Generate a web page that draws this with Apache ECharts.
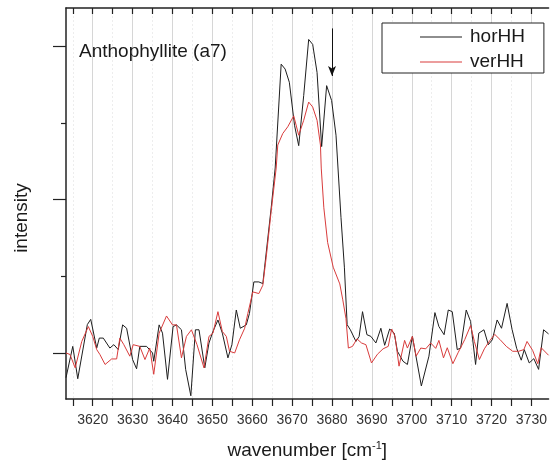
<!DOCTYPE html>
<html>
<head>
<meta charset="utf-8">
<script src="https://cdn.jsdelivr.net/npm/echarts@6/dist/echarts.min.js"></script>
<style>
  html, body { margin: 0; padding: 0; background: #fff; }
  #chart { width: 550px; height: 467px; }
</style>
</head>
<body>
<div id="chart"></div>
<script>
// Wavenumber axis (cm^-1): visible window, label positions, tick positions
const xRange = [3613.3, 3734.3];
const xLabelValues = [3620, 3630, 3640, 3650, 3660, 3670, 3680, 3690, 3700, 3710, 3720, 3730];
const xTickValues = [3615, 3620, 3625, 3630, 3635, 3640, 3645, 3650, 3655, 3660, 3665, 3670, 3675,
  3680, 3685, 3690, 3695, 3700, 3705, 3710, 3715, 3720, 3725, 3730];

// Intensity axis (arbitrary units, no labels)
const yRange = [-0.3, 2.248];
const yMajorTicks = [0, 1, 2];
const yMinorTicks = [0.5, 1.5];

// horHH spectrum
const horWn = [3613.3, 3615.0, 3616.25, 3618.65, 3619.5, 3621.0, 3621.65, 3622.65, 3624.3, 3625.3,
  3626.4, 3627.5, 3628.5, 3630.0, 3631.0, 3631.8, 3633.5, 3635.0, 3635.3, 3636.65,
  3637.5, 3638.75, 3640.15, 3641.0, 3642.25, 3643.3, 3644.6, 3645.75, 3646.65, 3648.1,
  3649.15, 3650.15, 3651.4, 3652.5, 3653.9, 3654.9, 3656.0, 3657.0, 3658.5, 3659.3,
  3660.4, 3661.65, 3662.65, 3663.1, 3664.75, 3665.75, 3667.25, 3668.25, 3669.3, 3670.6,
  3671.65, 3672.9, 3674.15, 3675.15, 3676.25, 3677.4, 3678.65, 3679.9, 3681.0, 3681.65,
  3682.25, 3683.1, 3683.8, 3684.6, 3686.0, 3686.8, 3687.65, 3688.75, 3689.75, 3691.0,
  3692.25, 3693.2, 3694.45, 3695.6, 3696.4, 3697.8, 3698.9, 3700.15, 3702.4, 3704.3,
  3705.8, 3706.8, 3708.1, 3709.15, 3710.15, 3711.4, 3712.25, 3713.65, 3714.75, 3716.0,
  3716.8, 3718.1, 3719.2, 3720.2, 3721.4, 3722.5, 3723.9, 3725.15, 3726.3, 3727.45,
  3728.2, 3729.45, 3730.6, 3731.8, 3733.05, 3734.3];
const horInt = [-0.161, 0.043, -0.168, 0.185, 0.219, 0.032, 0.097, 0.097, 0.032, 0.054,
  0.022, 0.183, 0.161, -0.043, -0.103, 0.043, 0.043, 0.0, -0.054, 0.183,
  0.129, -0.172, 0.172, 0.183, 0.151, -0.107, -0.279, 0.151, 0.151, -0.097,
  0.065, 0.14, 0.215, 0.129, -0.032, 0.054, 0.28, 0.161, 0.183, 0.258,
  0.463, 0.463, 0.452, 0.559, 0.946, 1.205, 1.882, 1.85, 1.764, 1.484,
  1.351, 1.677, 2.043, 2.011, 1.828, 1.345, 1.742, 1.645, 1.419, 1.14,
  0.882, 0.559, 0.184, 0.151, 0.075, 0.108, 0.269, 0.119, 0.108, 0.065,
  0.161, 0.05, 0.156, 0.129, 0.011, -0.054, -0.075, 0.108, -0.215, -0.021,
  0.263, 0.172, 0.119, 0.28, 0.269, 0.022, 0.032, 0.28, 0.205, -0.075,
  0.129, 0.151, 0.054, 0.086, 0.215, 0.161, 0.323, 0.153, 0.03, -0.047,
  0.022, -0.065, -0.037, -0.107, 0.151, 0.124];

// verHH spectrum
const verWn = [3613.3, 3614.3, 3615.6, 3617.25, 3618.9, 3620.0, 3621.0, 3621.8, 3623.1, 3624.75,
  3626.0, 3626.8, 3627.8, 3629.3, 3630.15, 3631.8, 3633.1, 3634.3, 3635.3, 3636.65,
  3638.5, 3640.0, 3641.0, 3642.25, 3643.5, 3644.75, 3646.15, 3647.9, 3649.15, 3650.15,
  3651.4, 3652.5, 3653.5, 3654.3, 3655.6, 3656.8, 3658.1, 3658.9, 3660.15, 3661.65,
  3662.65, 3663.5, 3664.75, 3666.0, 3666.4, 3667.65, 3668.9, 3670.4, 3671.65, 3672.9,
  3674.15, 3675.15, 3676.25, 3677.1, 3677.3, 3677.95, 3678.9, 3680.3, 3681.95, 3682.7,
  3683.5, 3684.1, 3685.15, 3686.25, 3687.4, 3688.5, 3689.9, 3691.4, 3692.8, 3694.1,
  3694.95, 3695.8, 3696.8, 3698.2, 3698.9, 3700.15, 3701.1, 3702.25, 3703.5, 3704.75,
  3706.0, 3706.8, 3707.95, 3708.9, 3710.3, 3711.6, 3713.3, 3714.75, 3715.7, 3716.95,
  3718.2, 3719.6, 3720.8, 3722.1, 3723.7, 3725.3, 3726.8, 3728.1, 3728.9, 3730.3,
  3731.6, 3732.45, 3734.3];
const verInt = [0.0, -0.01, -0.097, 0.075, 0.172, 0.108, 0.022, -0.01, -0.075, -0.039,
  -0.039, 0.097, 0.054, -0.021, 0.054, 0.043, -0.043, 0.032, -0.139, 0.129,
  0.241, 0.183, 0.183, -0.032, 0.108, 0.151, 0.054, -0.097, 0.108, 0.129,
  0.269, 0.14, 0.108, 0.011, 0.0, 0.086, 0.161, 0.258, 0.398, 0.387,
  0.441, 0.624, 0.925, 1.205, 1.355, 1.43, 1.474, 1.545, 1.419, 1.516,
  1.635, 1.603, 1.516, 1.355, 1.205, 0.946, 0.72, 0.559, 0.45, 0.346,
  0.224, 0.032, 0.043, 0.092, 0.065, 0.054, -0.065, -0.008, 0.027, 0.043,
  0.156, 0.108, -0.086, 0.082, 0.032, 0.108, -0.021, 0.032, 0.027, 0.065,
  0.03, 0.082, -0.032, 0.034, -0.07, 0.001, 0.088, 0.179, 0.075, -0.043,
  0.027, 0.082, 0.121, 0.088, 0.043, 0.011, 0.011, 0.022, 0.075, 0.017,
  -0.07, 0.034, -0.015];

// Marked band position and the arrow's vertical extent
const markedBand = 3680;
const arrowFrom = 2.115;
const arrowTo = 1.805;

const FONT = "'Liberation Sans', Arial, Helvetica, sans-serif";
const pairs = (xs, ys) => xs.map((x, i) => [x, ys[i]]);
// legend key: a plain horizontal stroke
const LINE_ICON = 'path://M0,0H42V1H0Z';

const chart = echarts.init(document.getElementById('chart'), null, { renderer: 'canvas' });

chart.setOption({
  animation: false,
  backgroundColor: '#ffffff',
  textStyle: { fontFamily: FONT },
  title: {
    text: 'Anthophyllite (a7)',
    left: 79,
    top: 42,
    padding: 0,
    textStyle: { fontFamily: FONT, fontSize: 19, fontWeight: 'normal', color: '#1a1a1a' }
  },
  legend: {
    orient: 'vertical',
    left: 382,
    top: 23,
    padding: [3, 19, 0, 38],
    itemWidth: 42,
    itemHeight: 14,
    itemGap: 3,
    borderColor: '#222',
    borderWidth: 1,
    backgroundColor: '#fff',
    textStyle: { fontFamily: FONT, fontSize: 19, color: '#1a1a1a', lineHeight: 22, padding: [0, 0, 0, 3] },
    data: [
      { name: 'horHH', icon: LINE_ICON },
      { name: 'verHH', icon: LINE_ICON }
    ]
  },
  grid: { left: 66, right: 0, top: 8, bottom: 64, containLabel: false },
  graphic: [{
    type: 'text',
    x: 22,
    y: 218,
    rotation: Math.PI / 2,
    style: {
      text: 'intensity',
      font: '19px ' + FONT,
      fill: '#1a1a1a',
      align: 'center',
      verticalAlign: 'middle'
    }
  }],
  xAxis: [
    {
      type: 'value',
      position: 'bottom',
      min: xRange[0],
      max: xRange[1],
      axisLine: { show: true, onZero: false, lineStyle: { color: '#222', width: 1.5 } },
      axisTick: { show: true, inside: false, length: 7, customValues: xTickValues, lineStyle: { color: '#222', width: 1.2 } },
      axisLabel: {
        show: true, customValues: xLabelValues, margin: 14,
        fontFamily: FONT, fontSize: 14, color: '#333',
        formatter: v => String(v)
      },
      splitLine: { show: true, lineStyle: { color: '#ededed', width: 1, type: [2, 2] } },
      name: 'wavenumber [cm{sup|-1}]',
      nameLocation: 'middle',
      nameGap: 41,
      nameTextStyle: {
        fontFamily: FONT, fontSize: 19, color: '#1a1a1a', lineHeight: 22,
        rich: { sup: { fontFamily: FONT, fontSize: 11, verticalAlign: 'top', lineHeight: 12, color: '#1a1a1a' } }
      }
    },
    {
      type: 'value',
      position: 'top',
      min: xRange[0],
      max: xRange[1],
      axisLine: { show: true, onZero: false, lineStyle: { color: '#222', width: 1.5 } },
      axisTick: { show: true, inside: true, length: 6, customValues: xTickValues, lineStyle: { color: '#222', width: 1.2 } },
      axisLabel: { show: false },
      splitLine: { show: false }
    },
    {
      type: 'value',
      position: 'bottom',
      min: xRange[0],
      max: xRange[1],
      axisLine: { show: false },
      axisTick: { show: false, customValues: xLabelValues },
      axisLabel: { show: false },
      splitLine: { show: true, lineStyle: { color: '#d6d6d6', width: 1 } }
    }
  ],
  yAxis: [
    {
      type: 'value',
      position: 'left',
      min: yRange[0],
      max: yRange[1],
      axisLine: { show: true, onZero: false, lineStyle: { color: '#222', width: 1.5 } },
      axisTick: { show: true, inside: false, length: 13, customValues: yMajorTicks, lineStyle: { color: '#222', width: 1.2 } },
      axisLabel: { show: false },
      splitLine: { show: false }
    },
    {
      type: 'value',
      position: 'left',
      min: yRange[0],
      max: yRange[1],
      axisLine: { show: false },
      axisTick: { show: true, inside: false, length: 5, customValues: yMinorTicks, lineStyle: { color: '#222', width: 1.2 } },
      axisLabel: { show: false },
      splitLine: { show: false }
    }
  ],
  series: [
    {
      name: 'horHH',
      type: 'line',
      xAxisIndex: 0,
      yAxisIndex: 0,
      data: pairs(horWn, horInt),
      symbol: 'none',
      lineStyle: { color: '#1e1e1e', width: 1 },
      itemStyle: { color: '#1e1e1e' },
      z: 3,
      markLine: {
        silent: true,
        animation: false,
        label: { show: false },
        lineStyle: { color: '#111', width: 1, type: 'solid' },
        data: [[
          { coord: [markedBand, arrowFrom], symbol: 'none' },
          { coord: [markedBand, arrowTo], symbol: 'arrow', symbolSize: [6, 10] }
        ]]
      }
    },
    {
      name: 'verHH',
      type: 'line',
      xAxisIndex: 0,
      yAxisIndex: 0,
      data: pairs(verWn, verInt),
      symbol: 'none',
      lineStyle: { color: '#d93c3c', width: 1 },
      itemStyle: { color: '#d93c3c' },
      z: 4
    }
  ]
});
</script>
</body>
</html>
